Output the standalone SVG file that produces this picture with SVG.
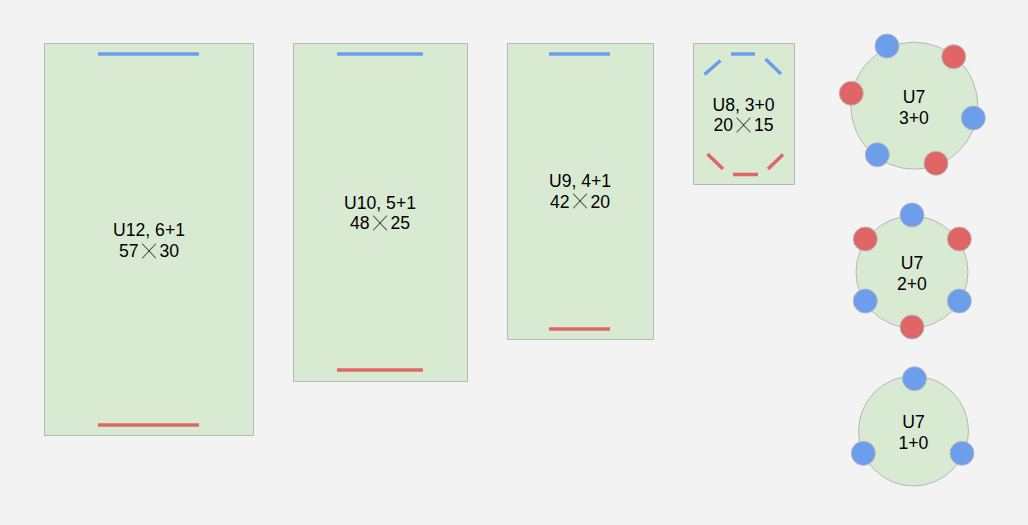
<svg xmlns="http://www.w3.org/2000/svg" width="1028" height="525" viewBox="0 0 1028 525">
<style>
.bg{fill:#f3f3f3}
.box{fill:#d9ead3;stroke:#b7b7b7;stroke-width:1}
.b{stroke:#6d9eeb;stroke-width:3.5;fill:none}
.r{stroke:#e06666;stroke-width:3.5;fill:none}
.bd{fill:#6d9eeb;stroke:#b7b7b7;stroke-width:1}
.rd{fill:#e06666;stroke:#b7b7b7;stroke-width:1}
text{font-family:"Liberation Sans",Arial,sans-serif;font-size:17.6px;fill:#000;text-anchor:middle}
.x{font-family:"Noto Sans CJK SC","Noto Sans CJK JP",sans-serif;font-size:14px}
</style>
<rect class="bg" x="0" y="0" width="1028" height="525"/>
<g id="u12">
<rect class="box" x="44.5" y="43.5" width="209" height="392"/>
<line class="b" x1="98" y1="54" x2="199" y2="54"/>
<line class="r" x1="98" y1="425" x2="199" y2="425"/>
<text x="149" y="235.5">U12, 6+1</text>
<text x="149" y="257">57<tspan class="x" dx="3.5" dy="-1.2">╳</tspan><tspan dx="3.5" dy="1.2">30</tspan></text>
</g>
<g id="u10">
<rect class="box" x="293.5" y="43.5" width="174" height="338"/>
<line class="b" x1="337" y1="54" x2="423" y2="54"/>
<line class="r" x1="337" y1="370" x2="423" y2="370"/>
<text x="380" y="208.5">U10, 5+1</text>
<text x="380" y="229">48<tspan class="x" dx="3.5" dy="-1.2">╳</tspan><tspan dx="3.5" dy="1.2">25</tspan></text>
</g>
<g id="u9">
<rect class="box" x="507.5" y="43.5" width="146" height="296"/>
<line class="b" x1="549" y1="54" x2="610" y2="54"/>
<line class="r" x1="549" y1="329" x2="610" y2="329"/>
<text x="580" y="187">U9, 4+1</text>
<text x="580" y="207.5">42<tspan class="x" dx="3.5" dy="-1.2">╳</tspan><tspan dx="3.5" dy="1.2">20</tspan></text>
</g>
<g id="u8">
<rect class="box" x="693.5" y="43.5" width="101" height="141"/>
<line class="b" x1="731" y1="54" x2="755" y2="54"/>
<line class="b" x1="704.5" y1="74.5" x2="720.5" y2="60.5"/>
<line class="b" x1="765.5" y1="59" x2="781" y2="74"/>
<line class="r" x1="707.5" y1="154" x2="723" y2="169"/>
<line class="r" x1="733" y1="174.5" x2="758" y2="174.5"/>
<line class="r" x1="768" y1="169" x2="783" y2="154.5"/>
<text x="743.5" y="110.5">U8, 3+0</text>
<text x="743.5" y="131">20<tspan class="x" dx="3.5" dy="-1.2">╳</tspan><tspan dx="3.5" dy="1.2">15</tspan></text>
</g>
<g id="u7a">
<circle class="box" cx="914.3" cy="105.7" r="63.5"/>
<circle class="bd" cx="887" cy="46" r="12"/>
<circle class="rd" cx="953.7" cy="56.7" r="12"/>
<circle class="rd" cx="851.3" cy="93.3" r="12"/>
<circle class="bd" cx="973.3" cy="118" r="12"/>
<circle class="bd" cx="877.3" cy="154.7" r="12"/>
<circle class="rd" cx="936" cy="163.3" r="12"/>
<text x="914" y="103">U7</text>
<text x="914" y="124">3+0</text>
</g>
<g id="u7b">
<circle class="box" cx="912" cy="272" r="56"/>
<circle class="bd" cx="912" cy="215" r="12"/>
<circle class="rd" cx="865.3" cy="239" r="12"/>
<circle class="rd" cx="959.3" cy="239" r="12"/>
<circle class="bd" cx="865.3" cy="301" r="12"/>
<circle class="bd" cx="959.3" cy="301" r="12"/>
<circle class="rd" cx="912" cy="327" r="12"/>
<text x="912" y="269">U7</text>
<text x="912" y="290">2+0</text>
</g>
<g id="u7c">
<circle class="box" cx="913.5" cy="431" r="55"/>
<circle class="bd" cx="914.5" cy="378.7" r="12"/>
<circle class="bd" cx="863.3" cy="453.3" r="12"/>
<circle class="bd" cx="962" cy="453.3" r="12"/>
<text x="913.5" y="428">U7</text>
<text x="913.5" y="449">1+0</text>
</g>
<g id="connectors"/>
</svg>
